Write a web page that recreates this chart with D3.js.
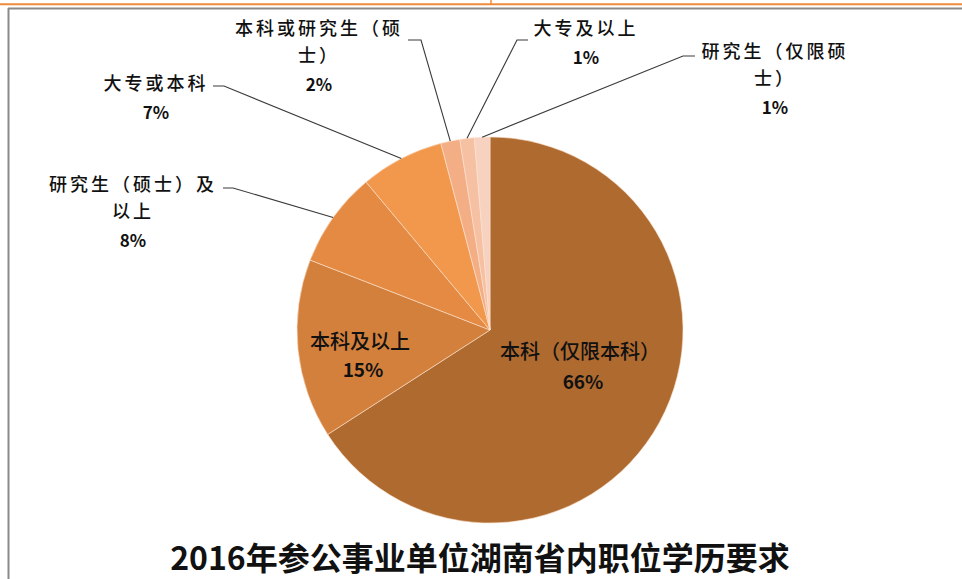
<!DOCTYPE html>
<html>
<head>
    <meta charset="utf-8">
    <title></title>
    <style>
        body { margin: 0; background: #fff; }
        svg { display: block; }
        text { font-family: "Noto Sans CJK SC", "Noto Sans", sans-serif; fill: #111; }
    </style>
</head>
<body>
<script src="https://cdn.jsdelivr.net/npm/d3@7/dist/d3.min.js"></script>
<script>
    var width  = 962;
    var height = 579;

    // 数据
    const categories = ["本科（仅限本科）", "本科及以上", "研究生（硕士）及以上", "大专或本科",
                        "本科或研究生（硕士）", "大专及以上", "研究生（仅限硕士）"];
    const shares = [65.9, 15.0, 8.0, 7.0, 1.6, 1.2, 1.3];
    const colors = ["#AF6A30", "#D3803D", "#E48A42", "#F1984D", "#F4AE86", "#F6C0A2", "#F8D2C0"];
    const title = "2016年参公事业单位湖南省内职位学历要求";

    // 标签布局 (inside: 扇区内; 其它带引线)
    const labelLayout = [
        {inside: true, x: 580, y: 350, gap: 30},
        {inside: true, x: 360, y: 340, gap: 28},
        {x: 133, y: 183, wrap: 8, hx: [223, 233], hy: 188},
        {x: 156, y: 82,  wrap: 8, hx: [213, 224], hy: 86},
        {x: 319, y: 27,  wrap: 8, hx: [408, 421], hy: 40},
        {x: 586, y: 27,  wrap: 8, hx: [528, 517], hy: 40},
        {x: 775, y: 50,  wrap: 7, hx: [695, 683], hy: 56}
    ];

    var cx = 490, cy = 330, radius = 193;

    var svg = d3.select("body").append("svg")
        .attr("width", width)
        .attr("height", height);

    // 截图边框
    svg.append("line").attr("x1", 0).attr("x2", width).attr("y1", 3.5).attr("y2", 3.5)
        .attr("stroke", "#F7B27A").attr("stroke-width", 1);
    svg.append("line").attr("x1", 0).attr("x2", width).attr("y1", 4.5).attr("y2", 4.5)
        .attr("stroke", "#ED8A3C").attr("stroke-width", 1.5);
    svg.append("line").attr("x1", 491).attr("x2", 491).attr("y1", 0).attr("y2", 4)
        .attr("stroke", "#ED8A3C").attr("stroke-width", 1.5);
    svg.append("line").attr("x1", 8).attr("x2", width).attr("y1", 8.5).attr("y2", 8.5)
        .attr("stroke", "#8a8a8a").attr("stroke-width", 2);
    svg.append("line").attr("x1", 8.5).attr("x2", 8.5).attr("y1", 8).attr("y2", height)
        .attr("stroke", "#8a8a8a").attr("stroke-width", 2);

    var pie = d3.pie().sort(null).value(function(d){ return d; });
    var arcs = pie(shares);

    var arc = d3.arc().innerRadius(0).outerRadius(radius);
    var edgeArc = d3.arc().innerRadius(radius).outerRadius(radius);

    var g = svg.append("g").attr("transform", "translate(" + cx + "," + cy + ")");

    g.selectAll("path")
        .data(arcs)
        .enter()
        .append("path")
        .attr("d", arc)
        .attr("fill", function(d, i){ return colors[i]; })
        .attr("stroke", "#fbe3cf")
        .attr("stroke-width", 0.6);

    var total = d3.sum(shares);
    function pct(v) { return Math.round(v / total * 100) + "%"; }

    function wrapText(s, n) {
        var out = [];
        for (var k = 0; k < s.length; k += n) out.push(s.slice(k, k + n));
        return out;
    }

    arcs.forEach(function(d, i) {
        var L = labelLayout[i];
        if (L.inside) {
            svg.append("text")
                .attr("x", L.x).attr("y", L.y)
                .attr("text-anchor", "middle").attr("dominant-baseline", "central")
                .attr("font-size", "20px").attr("font-weight", 500)
                .text(categories[i]);
            svg.append("text")
                .attr("x", L.x + 3).attr("y", L.y + L.gap)
                .attr("text-anchor", "middle").attr("dominant-baseline", "central")
                .attr("font-size", "19px").attr("font-weight", "bold")
                .text(pct(d.value));
            return;
        }
        // 引线
        var p = edgeArc.centroid(d);
        var pts = [[L.hx[0], L.hy], [L.hx[1], L.hy], [p[0] + cx, p[1] + cy]];
        svg.append("path")
            .attr("d", d3.line()(pts))
            .attr("fill", "none")
            .attr("stroke", "#3a3a3a")
            .attr("stroke-width", 1.1);

        var lines = wrapText(categories[i], L.wrap);
        lines.forEach(function(s, k) {
            svg.append("text")
                .attr("x", L.x).attr("y", L.y + k * 27)
                .attr("text-anchor", "middle").attr("dominant-baseline", "central")
                .attr("font-size", "18px").attr("font-weight", 500)
                .attr("letter-spacing", "3px")
                .text(s);
        });
        svg.append("text")
            .attr("x", L.x).attr("y", L.y + lines.length * 27 + 2)
            .attr("text-anchor", "middle").attr("dominant-baseline", "central")
            .attr("font-size", "17px").attr("font-weight", "bold")
            .text(pct(d.value));
    });

    svg.append("text")
        .attr("x", 480).attr("y", 556)
        .attr("text-anchor", "middle").attr("dominant-baseline", "central")
        .attr("font-size", "32px").attr("font-weight", "bold")
        .text(title);
</script>
</body>
</html>
